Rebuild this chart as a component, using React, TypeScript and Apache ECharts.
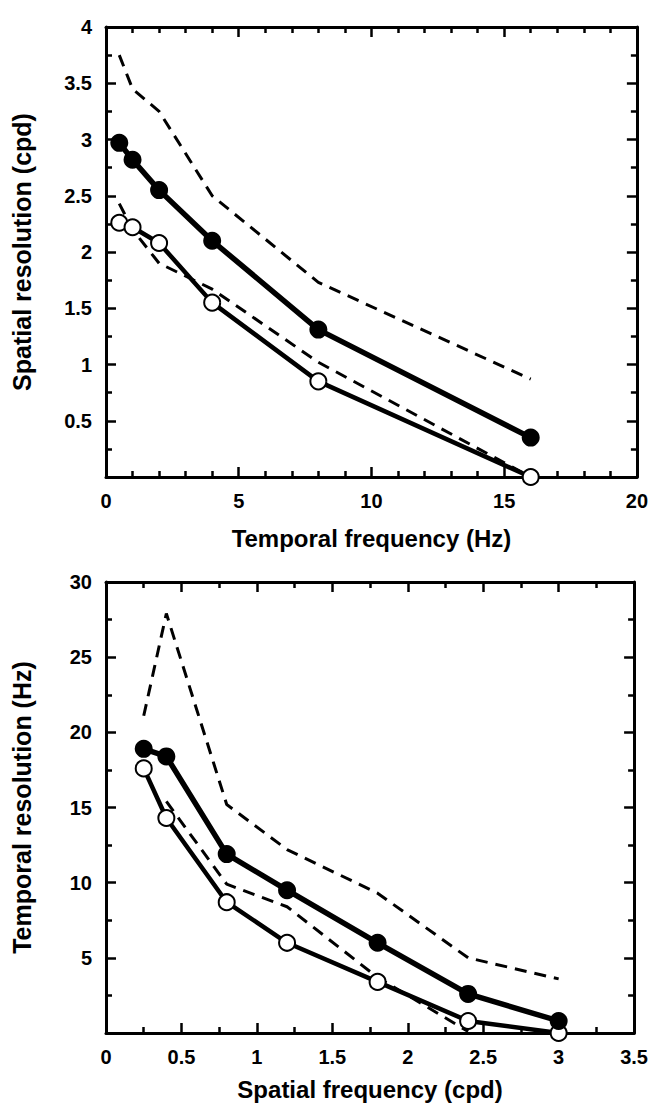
import React, { useEffect, useRef } from "react";
import * as echarts from "echarts";

// Top panel: spatial resolution vs temporal frequency
const tfX = [0.5, 1, 2, 4, 8, 16];
const srFilled = [2.97, 2.82, 2.55, 2.1, 1.31, 0.35];
const srOpen = [2.26, 2.22, 2.08, 1.55, 0.85, 0.0];
const srDashUpper = [3.75, 3.45, 3.25, 2.5, 1.73, 0.87];
const srDashLower = [2.43, 2.2, 1.9, 1.67, 1.02, 0.0];

// Bottom panel: temporal resolution vs spatial frequency
const sfX = [0.25, 0.4, 0.8, 1.2, 1.8, 2.4, 3];
const trFilled = [18.9, 18.4, 11.9, 9.5, 6.0, 2.6, 0.8];
const trOpen = [17.6, 14.3, 8.7, 6.0, 3.4, 0.8, 0.0];
const trDashUpper = [21.1, 27.9, 15.2, 12.2, 9.3, 5.0, 3.6];
const sfXLower = [0.4, 0.8, 1.2, 1.8, 2.4];
const trDashLower = [15.4, 9.9, 8.4, 3.7, 0.1];

const FONT = "Liberation Sans, Arial, Helvetica, sans-serif";

const zip = (xs: number[], ys: number[]) => xs.map((x, i) => [x, ys[i]]);

function axisBase(gridIndex: number, min: number, max: number, interval: number, minorSplit: number, position: string, showLabel: boolean, hideZero: boolean) {
  return {
    type: "value",
    gridIndex,
    min,
    max,
    interval,
    position,
    axisLine: { show: true, onZero: false, lineStyle: { color: "#000", width: 3 } },
    axisTick: { show: true, inside: true, length: 10, lineStyle: { color: "#000", width: 2.5 } },
    minorTick: { show: true, splitNumber: minorSplit, length: 6, lineStyle: { color: "#000", width: 2.5 } },
    splitLine: { show: false },
    axisLabel: {
      show: showLabel,
      fontSize: 20,
      fontWeight: "bold",
      color: "#000",
      fontFamily: FONT,
      margin: 14,
      formatter: (v: number) => (hideZero && v === 0 ? "" : String(v)),
    },
  };
}

const xNameStyle = { fontSize: 24, fontWeight: "bold", color: "#000", fontFamily: FONT };
const yNameStyle = { fontSize: 25, fontWeight: "bold", color: "#000", fontFamily: FONT };

function dashed(gridIdx: number, data: number[][]) {
  return {
    type: "line",
    xAxisIndex: gridIdx * 2,
    yAxisIndex: gridIdx * 2,
    data,
    showSymbol: false,
    symbol: "none",
    clip: false,
    lineStyle: { color: "#000", width: 3, type: [12, 8] },
    z: 2,
  };
}

function filled(gridIdx: number, data: number[][]) {
  return {
    type: "line",
    xAxisIndex: gridIdx * 2,
    yAxisIndex: gridIdx * 2,
    data,
    symbol: "circle",
    symbolSize: 18,
    clip: false,
    itemStyle: { color: "#000" },
    lineStyle: { color: "#000", width: 5.5 },
    z: 4,
  };
}

function open(gridIdx: number, data: number[][]) {
  return {
    type: "line",
    xAxisIndex: gridIdx * 2,
    yAxisIndex: gridIdx * 2,
    data,
    symbol: "circle",
    symbolSize: 16,
    clip: false,
    itemStyle: { color: "#fff", borderColor: "#000", borderWidth: 2 },
    lineStyle: { color: "#000", width: 4.5 },
    z: 3,
  };
}

export default function App() {
  const ref = useRef<HTMLDivElement>(null);
  useEffect(() => {
    document.body.style.margin = "0";
    if (!ref.current) return;
    const chart = echarts.init(ref.current, undefined, { renderer: "svg" });
    const option: any = {
      animation: false,
      backgroundColor: "#fff",
      grid: [
        { left: 106, top: 27, width: 531, height: 450 },
        { left: 106, top: 582, width: 531, height: 451 },
      ],
      xAxis: [
        {
          ...axisBase(0, 0, 20, 5, 5, "bottom", true, false),
          name: "Temporal frequency (Hz)",
          nameLocation: "middle",
          nameGap: 49,
          nameTextStyle: xNameStyle,
        },
        axisBase(0, 0, 20, 5, 5, "top", false, false),
        {
          ...axisBase(1, 0, 3.5, 0.5, 2, "bottom", true, false),
          name: "Spatial frequency (cpd)",
          nameLocation: "middle",
          nameGap: 44,
          nameTextStyle: xNameStyle,
        },
        axisBase(1, 0, 3.5, 0.5, 2, "top", false, false),
      ],
      yAxis: [
        {
          ...axisBase(0, 0, 4, 0.5, 2, "left", true, true),
          name: "Spatial resolution (cpd)",
          nameLocation: "middle",
          nameGap: 72,
          nameRotate: 90,
          nameTextStyle: yNameStyle,
        },
        axisBase(0, 0, 4, 0.5, 2, "right", false, true),
        {
          ...axisBase(1, 0, 30, 5, 2, "left", true, true),
          name: "Temporal resolution (Hz)",
          nameLocation: "middle",
          nameGap: 72,
          nameRotate: 90,
          nameTextStyle: yNameStyle,
        },
        axisBase(1, 0, 30, 5, 2, "right", false, true),
      ],
      series: [
        dashed(0, zip(tfX, srDashUpper)),
        dashed(0, zip(tfX, srDashLower)),
        open(0, zip(tfX, srOpen)),
        filled(0, zip(tfX, srFilled)),
        dashed(1, zip(sfX, trDashUpper)),
        dashed(1, zip(sfXLower, trDashLower)),
        open(1, zip(sfX, trOpen)),
        filled(1, zip(sfX, trFilled)),
      ],
    };
    chart.setOption(option);
    return () => chart.dispose();
  }, []);
  return <div ref={ref} style={{ width: 651, height: 1104 }} />;
}
